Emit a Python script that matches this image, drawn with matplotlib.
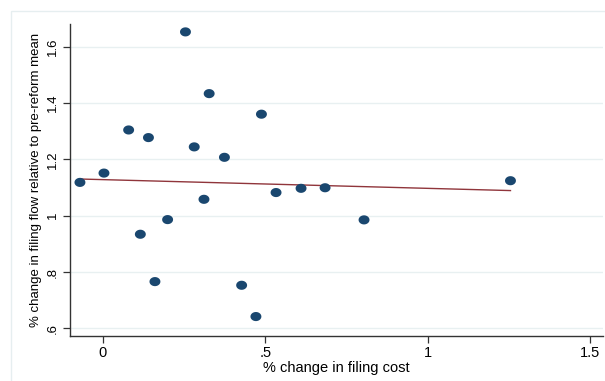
import numpy as np
import matplotlib
matplotlib.use("Agg")
import matplotlib.pyplot as plt
from matplotlib.patches import Rectangle
from matplotlib.path import Path

cost_change = [-0.071, 0.003, 0.079, 0.140, 0.254, 0.327, 0.281, 0.374, 0.311, 0.199,
               0.115, 0.160, 0.427, 0.488, 0.533, 0.610, 0.684, 0.804, 0.471, 1.255]
flow_change = [1.118, 1.151, 1.304, 1.277, 1.652, 1.433, 1.244, 1.207, 1.058, 0.986,
               0.934, 0.766, 0.753, 1.360, 1.082, 1.097, 1.099, 0.985, 0.642, 1.124]
fit_x = [-0.071, 1.255]
fit_y = [1.130, 1.089]
x_ticks = [0, 0.5, 1, 1.5]
x_tick_labels = ["0", ".5", "1", "1.5"]
y_ticks = [0.6, 0.8, 1.0, 1.2, 1.4, 1.6]
y_tick_labels = [".6", ".8", "1", "1.2", "1.4", "1.6"]

plt.rcParams['font.family'] = ['Liberation Sans', 'DejaVu Sans']

W, H = 605, 381
fig = plt.figure(figsize=(W / 100, H / 100), dpi=100)
fig.patch.set_facecolor("white")

# outer graph region border
fig.patches.append(Rectangle((10.5 / W, -0.05), 1.2, (H - 10.5) / H + 0.05,
                             transform=fig.transFigure, fill=False,
                             edgecolor="#e6eef0", linewidth=1.0))

left, right, bottom, top = 70.3, 603, 336, 24
ax = fig.add_axes([left / W, (H - bottom) / H, (right - left) / W, (bottom - top) / H])

ax.set_xlim(-0.1007, 1.54)
ax.set_ylim(0.573, 1.680)

for yt in y_ticks:
    ax.axhline(yt, color="#e8f0f1", linewidth=1.0, zorder=0)

ax.plot(fit_x, fit_y, color="#90353b", linewidth=1.0, zorder=2)

# slightly wide ellipse marker (reference image is horizontally stretched)
t = np.linspace(0, 2 * np.pi, 41)
ell = Path(np.column_stack([1.2 * np.cos(t), np.sin(t)]), closed=True)
ax.scatter(cost_change, flow_change, s=62, marker=ell, color="#1a476f",
           edgecolors="none", zorder=3)

ax.set_xticks(x_ticks)
ax.set_xticklabels(x_tick_labels)
ax.set_yticks(y_ticks)
ax.set_yticklabels(y_tick_labels, rotation=90, va="center")

for s in ["top", "right"]:
    ax.spines[s].set_visible(False)
for s in ["left", "bottom"]:
    ax.spines[s].set_color("#333333")
    ax.spines[s].set_linewidth(1.0)

ax.tick_params(axis="both", direction="out", length=5, width=0.9, color="#333333",
               labelcolor="black", pad=3)
ax.tick_params(axis="x", labelsize=10.5, pad=2)
ax.tick_params(axis="y", labelsize=9.5)

ax.set_xlabel("% change in filing cost", fontsize=10.5, labelpad=1)
ax.set_ylabel("% change in filing flow relative to pre-reform mean", fontsize=9.5, labelpad=4)

fig.savefig("out.png", dpi=100, facecolor="white")
